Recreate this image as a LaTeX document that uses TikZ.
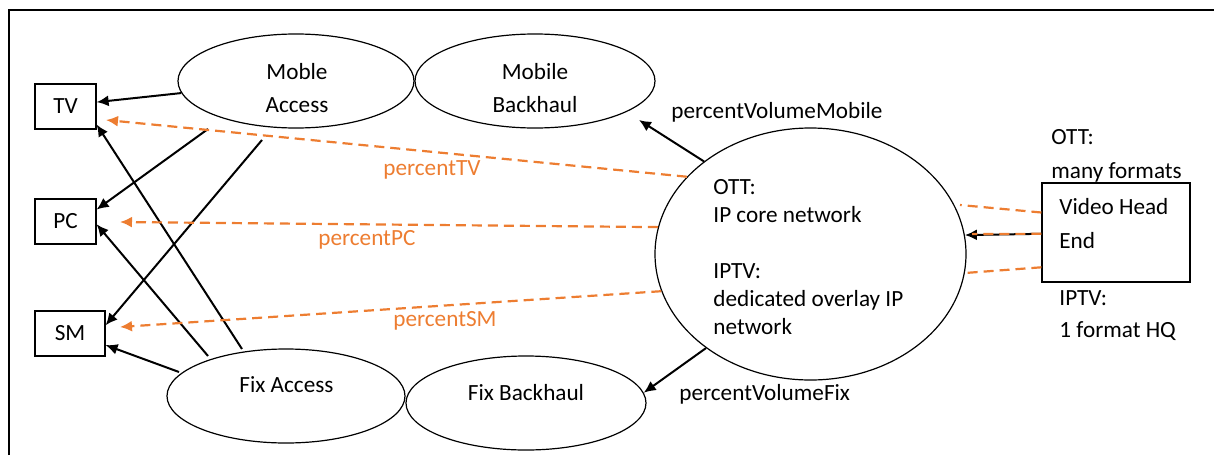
\documentclass[tikz,border=0pt]{standalone}
\usepackage{fontspec}
\setmainfont{Carlito}
\usetikzlibrary{arrows.meta,shapes.geometric}
\definecolor{accent}{HTML}{ED7D31}
\begin{document}
\begin{tikzpicture}[x=0.5pt,y=-0.5pt,
  every node/.style={font=\fontsize{11.6pt}{16.5pt}\selectfont, inner sep=0pt},
  ell/.style={draw, ellipse, line width=0.6pt},
  box/.style={draw, rectangle, line width=0.6pt},
  txt/.style={align=left},
  ctxt/.style={align=center},
  flow/.style={line width=1pt, -{Latex[length=6pt,width=5.5pt]}},
  share/.style={draw=accent, line width=1.1pt, dash pattern=on 5pt off 3pt},
  sharearrow/.style={share, -{Latex[length=6pt,width=5.5pt]}},
  sharelabel/.style={text=accent, anchor=base west}
]
\useasboundingbox (0,0) rectangle (1214,455);

% outer frame (top and left edges)
\draw[line width=1pt] (9,455) -- (9,10) -- (1214,10);

% access / backhaul / core networks
\node[ell, minimum width=118pt, minimum height=47pt] (ma) at (296,81) {};
\node[ell, minimum width=120pt, minimum height=47pt] (mb) at (535,81) {};
\node[ell, minimum width=119pt, minimum height=47pt] (fa) at (286,396) {};
\node[ell, minimum width=120pt, minimum height=47pt] (fb) at (526,403) {};
\node[ell, minimum width=155.5pt, minimum height=126pt] (core) at (810.5,254) {};

\node[ctxt, anchor=north] (maT) at (297,63) {Moble\\Access};
\node[ctxt, anchor=north] (mbT) at (535,63) {Mobile\\Backhaul};
\node[anchor=base] (faT) at (286.5,392) {Fix Access};
\node[anchor=base] (fbT) at (526,400) {Fix Backhaul};
\node[txt, anchor=north west, font=\fontsize{11.6pt}{14pt}\selectfont] (coreT) at (713,179)
  {OTT:\\IP core network\\[14pt]IPTV:\\dedicated overlay IP\\network};

% terminals
\node[box, minimum width=30.5pt, minimum height=22.5pt] (tv) at (65.5,106.5) {TV};
\node[box, minimum width=30.5pt, minimum height=22.5pt] (pc) at (65.5,221.5) {PC};
\node[box, minimum width=35pt, minimum height=22.5pt] (sm) at (70,333.5) {SM};

% video head end
\node[box, minimum width=74pt, minimum height=49.5pt] (vhe) at (1116,232.5) {};
\node[txt, anchor=north west, font=\fontsize{11.6pt}{17pt}\selectfont] (vheT) at (1059,198) {Video Head\\End};
\node[txt, anchor=north west, font=\fontsize{11.6pt}{17pt}\selectfont] (ottT) at (1051,129) {OTT:\\many formats};
\node[txt, anchor=north west, font=\fontsize{11.6pt}{16pt}\selectfont] (iptvT) at (1059,290) {IPTV:\\1 format HQ};

% free connector ends
\coordinate (ma1) at (208,129);
\coordinate (ma2) at (262,140);
\coordinate (fa1) at (179,372);
\coordinate (fa2) at (208,356);
\coordinate (fa3) at (242,349);
\coordinate (mbTip) at (639,120);
\coordinate (tvTip) at (106,120);
\coordinate (pcTip) at (120,222);
\coordinate (smTip) at (120,327);
\coordinate (vheUp) at (960,205);
\coordinate (vheLow) at (965,273);
\coordinate (vheMid) at (972,234);

% delivery paths to terminals
\draw[flow] (ma.186.3) -- (tv.8.1);
\draw[flow] (ma1) -- (pc.21.6);
\draw[flow] (ma2) -- (sm.13.3);
\draw[flow] (fa2) -- (pc.355.5);
\draw[flow] (fa3) -- (tv.330.9);
\draw[flow] (fa1) -- (sm.342.3);

% core to backhaul, head end to core
\draw[flow] (core.139.75) -- (mbTip);
\draw[flow] (core.222) -- (fb.5.2);
\draw[flow] (vhe.181.2) -- (core.7.3);

% traffic shares
\draw[sharearrow] (core.148.06) -- (tvTip);
\draw[sharearrow] (core.170.4) -- (pcTip);
\draw[sharearrow] (core.194.17) -- (smTip);
\draw[share] (vhe.165.2) -- (vheUp);
\draw[share] (vhe.181.2) -- (vheMid);
\draw[share] (vhe.205.6) -- (vheLow);

% labels
\node[sharelabel] (lTV) at (383,175) {percentTV};
\node[sharelabel] (lPC) at (318,245) {percentPC};
\node[sharelabel] (lSM) at (393,326) {percentSM};
\node[anchor=base west] (lMob) at (671,118) {percentVolumeMobile};
\node[anchor=base west] (lFix) at (679,400) {percentVolumeFix};
\end{tikzpicture}
\end{document}
